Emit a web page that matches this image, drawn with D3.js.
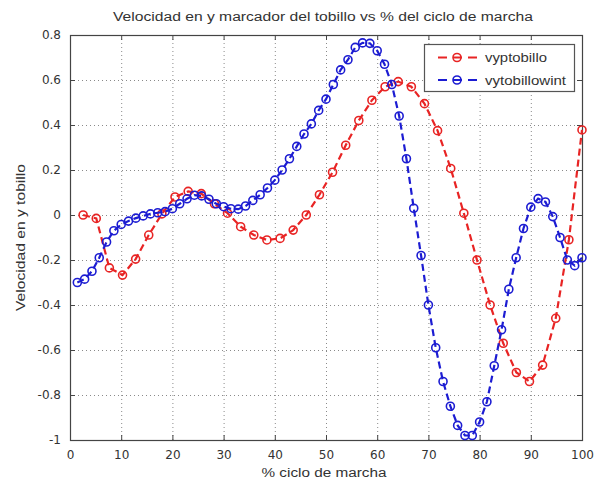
<!DOCTYPE html>
<html>
<head>
<meta charset="utf-8">
<script src="https://cdn.jsdelivr.net/npm/d3@7"></script>
<style>
  html, body { margin: 0; padding: 0; background: #fff; }
  svg { display: block; }
  text { font-family: "Liberation Sans", Arial, sans-serif; fill: #333; }
</style>
</head>
<body>
<svg id="chart" width="595" height="483"></svg>
<script>
// ---- data ----
const titleText = "Velocidad en y  marcador del tobillo vs % del ciclo de marcha";
const xLabelText = "% ciclo de marcha";
const yLabelText = "Velocidad en y tobillo";
const seriesNames = ["vyptobillo", "vytobillowint"];

const xTicks = [0, 10, 20, 30, 40, 50, 60, 70, 80, 90, 100];
const xTickLabels = ["0", "10", "20", "30", "40", "50", "60", "70", "80", "90", "100"];
const yTicks = [-1, -0.8, -0.6, -0.4, -0.2, 0, 0.2, 0.4, 0.6, 0.8];
const yTickLabels = ["-1", "-0.8", "-0.6", "-0.4", "-0.2", "0", "0.2", "0.4", "0.6", "0.8"];

const redX = [2.56, 5.13, 7.69, 10.26, 12.82, 15.38, 17.95, 20.51, 23.08, 25.64,
  28.21, 30.77, 33.33, 35.9, 38.46, 41.03, 43.59, 46.15, 48.72, 51.28,
  53.85, 56.41, 58.97, 61.54, 64.1, 66.67, 69.23, 71.79, 74.36, 76.92,
  79.49, 82.05, 84.62, 87.18, 89.74, 92.31, 94.87, 97.44, 100];
const redY = [0.0, -0.015, -0.235, -0.267, -0.196, -0.089, 0.005, 0.08, 0.105, 0.095,
  0.05, 0.008, -0.052, -0.089, -0.111, -0.104, -0.067, 0.0, 0.09, 0.19,
  0.31, 0.42, 0.51, 0.57, 0.593, 0.57, 0.495, 0.375, 0.207, 0.008,
  -0.2, -0.4, -0.57, -0.70, -0.74, -0.667, -0.459, -0.11, 0.378];

const blueX = [1.43, 2.86, 4.29, 5.71, 7.14, 8.57, 10, 11.43, 12.86, 14.29,
  15.71, 17.14, 18.57, 20, 21.43, 22.86, 24.29, 25.71, 27.14, 28.57,
  30, 31.43, 32.86, 34.29, 35.71, 37.14, 38.57, 40, 41.43, 42.86,
  44.29, 45.71, 47.14, 48.57, 50, 51.43, 52.86, 54.29, 55.71, 57.14,
  58.57, 60, 61.43, 62.86, 64.29, 65.71, 67.14, 68.57, 70, 71.43,
  72.86, 74.29, 75.71, 77.14, 78.57, 80, 81.43, 82.86, 84.29, 85.71,
  87.14, 88.57, 90, 91.43, 92.86, 94.29, 95.71, 97.14, 98.57, 100];
const blueY = [-0.30, -0.285, -0.25, -0.19, -0.12, -0.07, -0.042, -0.027, -0.014, -0.004,
  0.005, 0.01, 0.015, 0.028, 0.05, 0.072, 0.088, 0.085, 0.07, 0.05,
  0.037, 0.028, 0.026, 0.04, 0.065, 0.09, 0.12, 0.155, 0.2, 0.25,
  0.305, 0.36, 0.405, 0.465, 0.515, 0.58, 0.645, 0.69, 0.745, 0.765,
  0.763, 0.73, 0.67, 0.58, 0.44, 0.25, 0.03, -0.18, -0.40, -0.59,
  -0.74, -0.85, -0.935, -0.98, -0.98, -0.92, -0.83, -0.67, -0.51, -0.33,
  -0.19, -0.06, 0.035, 0.073, 0.058, -0.007, -0.10, -0.20, -0.225, -0.19];

// ---- layout ----
const L = 70, R = 582, T = 35, B = 440;
const svg = d3.select("#chart");

const x = d3.scaleLinear().domain([0, 100]).range([L, R]);
const y = d3.scaleLinear().domain([-1, 0.8]).range([B, T]);

// grid
const grid = svg.append("g").attr("stroke", "#8a8a8a").attr("stroke-width", 1)
  .attr("stroke-dasharray", "1,3").attr("fill", "none");
xTicks.slice(1, -1).forEach(v => {
  grid.append("line").attr("x1", x(v) + 0.5).attr("x2", x(v) + 0.5).attr("y1", T).attr("y2", B);
});
yTicks.slice(1, -1).forEach(v => {
  grid.append("line").attr("y1", Math.round(y(v)) + 0.5).attr("y2", Math.round(y(v)) + 0.5).attr("x1", L).attr("x2", R);
});

// axes (ticks inside, box)
const axB = d3.axisBottom(x).tickValues(xTicks).tickSizeInner(-5).tickSizeOuter(0)
  .tickFormat((d, i) => xTickLabels[i]).tickPadding(10);
const axT = d3.axisTop(x).tickValues(xTicks).tickSizeInner(-5).tickSizeOuter(0).tickFormat("");
const axLft = d3.axisLeft(y).tickValues(yTicks).tickSizeInner(-5).tickSizeOuter(0)
  .tickFormat((d, i) => yTickLabels[i]).tickPadding(9);
const axRt = d3.axisRight(y).tickValues(yTicks).tickSizeInner(-5).tickSizeOuter(0).tickFormat("");

function styleAxis(g) {
  g.select(".domain").remove();
  g.selectAll(".tick line").attr("stroke", "#444");
  g.selectAll(".tick text").attr("fill", "#333").style("font-size", "12px")
    .style("font-family", "'DejaVu Sans', sans-serif");
}
svg.append("g").attr("transform", `translate(0,${B})`).call(axB).call(styleAxis);
svg.append("g").attr("transform", `translate(0,${T})`).call(axT).call(styleAxis);
svg.append("g").attr("transform", `translate(${L},0)`).call(axLft).call(styleAxis);
svg.append("g").attr("transform", `translate(${R},0)`).call(axRt).call(styleAxis);

svg.append("rect").attr("x", L + 0.5).attr("y", T + 0.5).attr("width", R - L).attr("height", B - T)
  .attr("fill", "none").attr("stroke", "#444").attr("stroke-width", 1.2);

// series
const series = [
  { name: seriesNames[0], xs: redX, ys: redY, color: "#e82424" },
  { name: seriesNames[1], xs: blueX, ys: blueY, color: "#1c1cd2" }
];
const line = d3.line().x(d => x(d[0])).y(d => y(d[1]));
series.forEach(s => {
  const pts = s.xs.map((v, i) => [v, s.ys[i]]);
  const g = svg.append("g");
  g.append("path").datum(pts).attr("d", line).attr("fill", "none")
    .attr("stroke", s.color).attr("stroke-width", 2.2).attr("stroke-dasharray", "7,4");
  g.selectAll("circle").data(pts).join("circle")
    .attr("cx", d => x(d[0])).attr("cy", d => y(d[1])).attr("r", 4)
    .attr("fill", "none").attr("stroke", s.color).attr("stroke-width", 1.6);
});

// legend
const legendWidths = [62, 81];
const lg = svg.append("g");
lg.append("rect").attr("x", 424.5).attr("y", 44.5).attr("width", 150).attr("height", 47)
  .attr("fill", "#fff").attr("stroke", "#555").attr("stroke-width", 1.2);
series.forEach((s, i) => {
  const yy = 57.5 + i * 22.5;
  lg.append("line").attr("x1", 438).attr("x2", 478).attr("y1", yy).attr("y2", yy)
    .attr("stroke", s.color).attr("stroke-width", 2.2).attr("stroke-dasharray", "9,6");
  lg.append("circle").attr("cx", 457).attr("cy", yy).attr("r", 4)
    .attr("fill", "none").attr("stroke", s.color).attr("stroke-width", 1.6);
  lg.append("text").attr("x", 485).attr("y", yy + 4.5).text(s.name)
    .style("font-size", "12.5px").attr("fill", "#333")
    .attr("textLength", legendWidths[i]).attr("lengthAdjust", "spacingAndGlyphs");
});

// title
svg.append("text").attr("x", 323).attr("y", 21).attr("text-anchor", "middle")
  .style("font-size", "12.5px").attr("fill", "#222").text(titleText)
  .attr("textLength", 420).attr("lengthAdjust", "spacingAndGlyphs");

// x label
svg.append("text").attr("x", 324).attr("y", 477).attr("text-anchor", "middle")
  .style("font-size", "12.5px").attr("fill", "#333").text(xLabelText)
  .attr("textLength", 125).attr("lengthAdjust", "spacingAndGlyphs");

// y label
svg.append("text").attr("transform", `translate(25,${(T + B) / 2}) rotate(-90)`)
  .attr("text-anchor", "middle").style("font-size", "12.5px").attr("fill", "#333").text(yLabelText)
  .attr("textLength", 147).attr("lengthAdjust", "spacingAndGlyphs");
</script>
</body>
</html>
